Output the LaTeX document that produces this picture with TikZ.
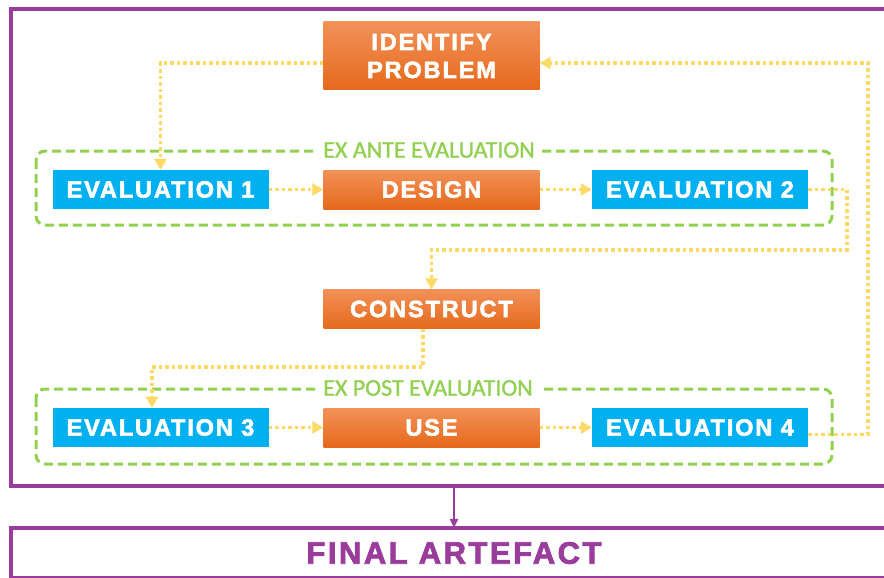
\documentclass[tikz,border=0pt]{standalone}
\usepackage{fontspec}
\setmainfont{Liberation Sans}
\newfontfamily\boxfont[BoldFeatures={FakeBold=2.5,LetterSpace=8}]{Liberation Sans}
\newfontfamily\labelfont[FakeBold=1]{Carlito}
\usetikzlibrary{arrows.meta}
\definecolor{orTop}{HTML}{F29158}
\definecolor{orBot}{HTML}{E6691C}
\definecolor{evBlue}{HTML}{00B0F0}
\definecolor{grGreen}{HTML}{92D050}
\definecolor{flowYellow}{HTML}{FFD966}
\definecolor{frPurple}{HTML}{993C9C}

\begin{document}
\begin{tikzpicture}[x=1pt,y=-1pt,
    box/.style={minimum width=216pt,minimum height=39pt,inner sep=0pt,text=white,align=center,font=\boxfont\bfseries\fontsize{23.5}{28}\selectfont},
    stepbox/.style={box,top color=orTop,bottom color=orBot},
    evalbox/.style={box,fill=evBlue},
    flow/.style={draw=flowYellow,line width=3.5pt,dash pattern=on 3.5pt off 3pt,-{Triangle[width=12pt,length=11pt]}},
    group/.style={draw=grGreen,line width=3pt,dash pattern=on 9pt off 5pt,rounded corners=9pt},
    grouplabel/.style={fill=white,text=grGreen,inner xsep=7pt,inner ysep=1pt,font=\labelfont\fontsize{24}{24}\selectfont},
    outline/.style={draw=frPurple,line width=3.5pt},
    link/.style={draw=frPurple,line width=2.5pt,-{Triangle[width=8pt,length=9pt]}}]
    \useasboundingbox (0,0) rectangle (884,578);
    \clip (0,0) rectangle (884,578);

    \draw[outline] (11,9) rectangle (905,486);
    \draw[outline] (11,528) rectangle (905,578);
    \draw[group] (36,151) rectangle (832,225);
    \draw[group] (36,389) rectangle (832,464);

    \node[stepbox,minimum height=68pt] (ident) at (431.5,56) {IDENTIFY\\PROBLEM};
    \node[evalbox] (evalone) at (160.5,189.5) {EVALUATION 1};
    \node[stepbox] (design) at (431.5,189.5) {DESIGN};
    \node[evalbox] (evaltwo) at (700,189.5) {EVALUATION 2};
    \node[stepbox] (construct) at (431.5,309) {CONSTRUCT};
    \node[evalbox] (evalthree) at (160.5,427.5) {EVALUATION 3};
    \node[stepbox] (use) at (431.5,427.5) {USE};
    \node[evalbox] (evalfour) at (700,427.5) {EVALUATION 4};
    \node[grouplabel] (exante) at (429,150) {EX ANTE EVALUATION};
    \node[grouplabel] (expost) at (428,388) {EX POST EVALUATION};
    \node[minimum height=50pt,inner sep=0pt,text=frPurple,font=\boxfont\bfseries\fontsize{31}{31}\selectfont] (final) at (454,553) {FINAL ARTEFACT};

    \coordinate (bendtwo) at (847,250);
    \coordinate (bendthree) at (152,367);
    \coordinate (bendfour) at (868,63);
    \coordinate (framebottom) at (454,486);

    \draw[flow] ([yshift=-7pt]ident.west) -| (evalone.north);
    \draw[flow] (evalone) -- (design);
    \draw[flow] (design) -- (evaltwo);
    \draw[flow] (evaltwo.east) -| (bendtwo) -| (construct.north);
    \draw[flow] ([xshift=-8.5pt]construct.south) |- (bendthree) -- ([xshift=-8.5pt]evalthree.north);
    \draw[flow] (evalthree) -- (use);
    \draw[flow] (use) -- (evalfour);
    \draw[flow] ([yshift=-7pt]evalfour.east) -| (bendfour) -- ([yshift=-7pt]ident.east);
    \draw[link] (framebottom) -- (final.north);
\end{tikzpicture}
\end{document}
